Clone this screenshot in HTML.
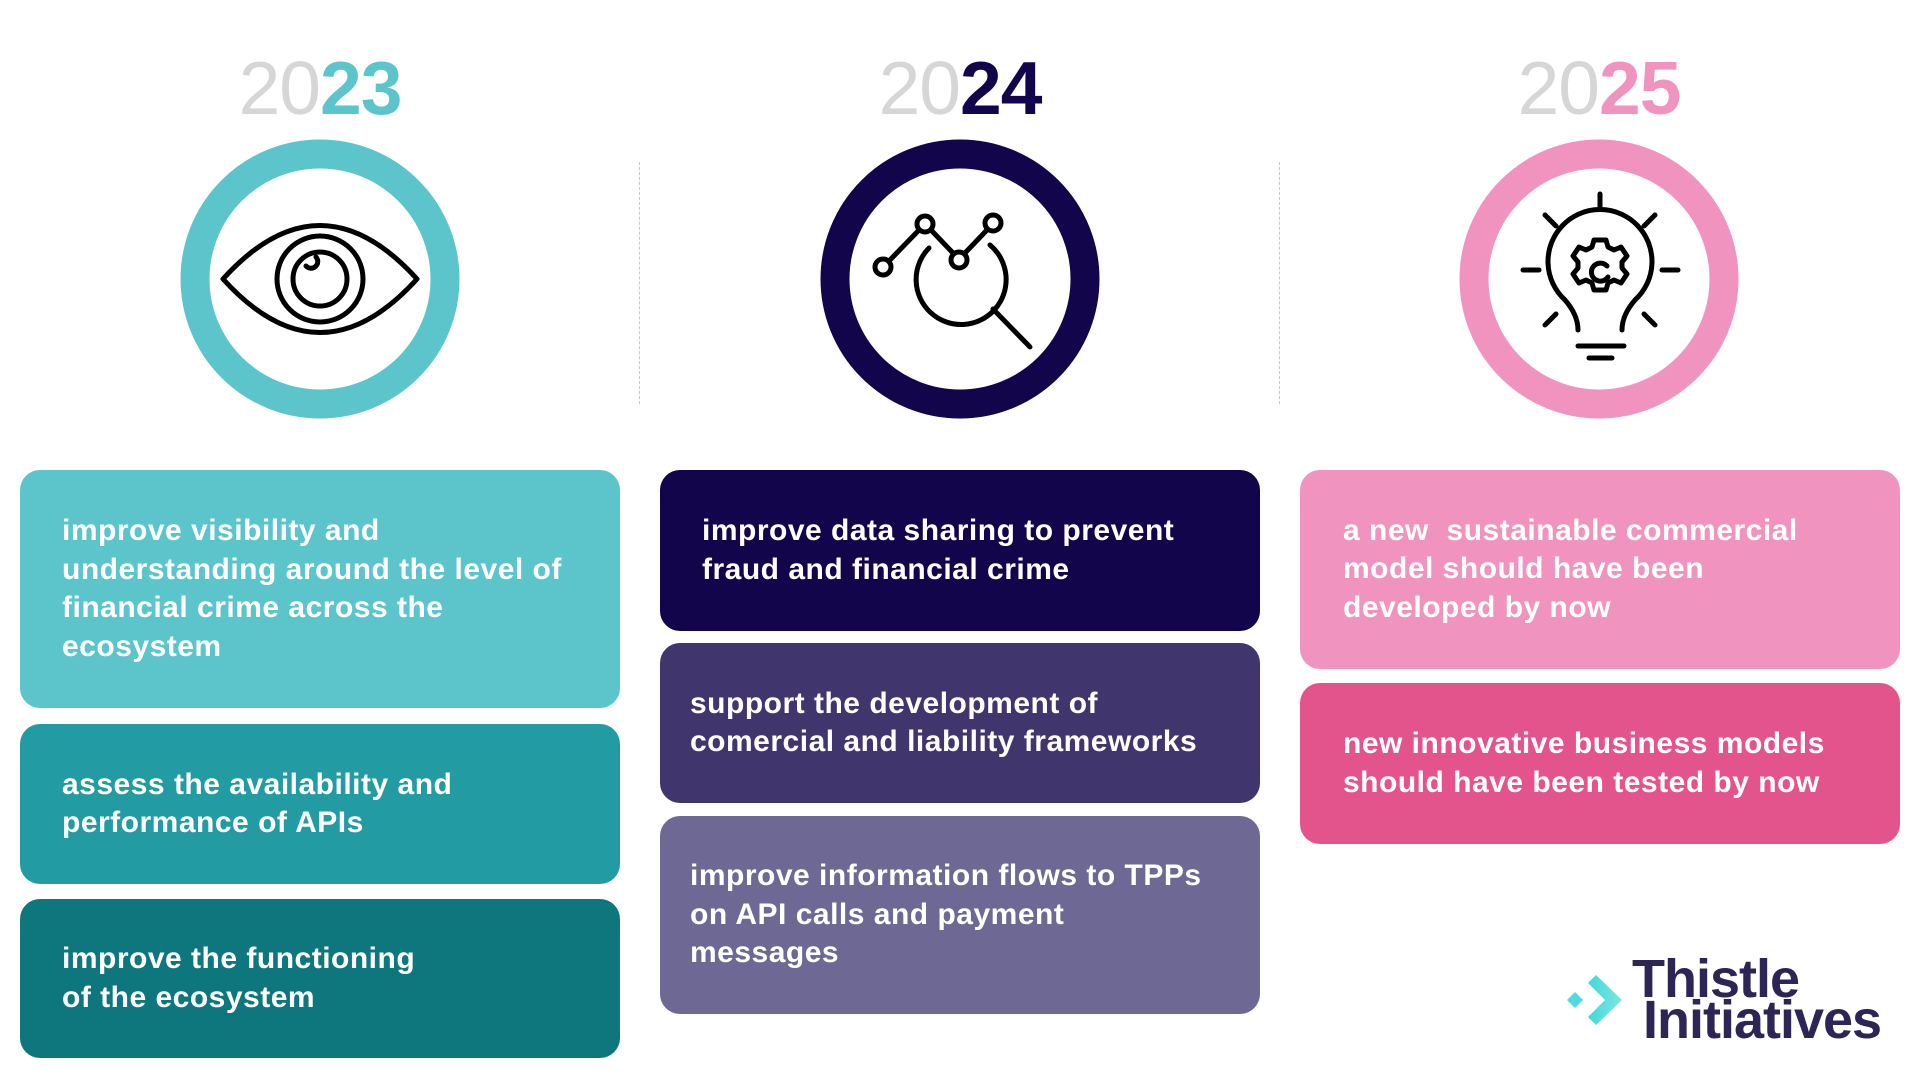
<!DOCTYPE html>
<html><head><meta charset="utf-8"><style>
html,body{margin:0;padding:0;background:#fff;}
body{width:1920px;height:1080px;position:relative;overflow:hidden;font-family:"Liberation Sans",Arial,sans-serif;}
.yr{position:absolute;top:46px;width:300px;text-align:center;font-size:75px;line-height:84px;letter-spacing:-1px;}
.yr .a{color:#d6d6d6;font-weight:normal;}
.yr .b{font-weight:bold;}
.box{position:absolute;border-radius:20px;color:#fff;font-weight:bold;font-size:30px;line-height:38.5px;display:flex;align-items:center;box-sizing:border-box;letter-spacing:0.5px;}
.dash{position:absolute;top:162px;height:242px;border-left:1.5px dashed #c8c8c8;}
</style></head><body>

<div class="yr" style="left:170px"><span class="a">20</span><span class="b" style="color:#5bc5cb">23</span></div>
<div class="yr" style="left:810px"><span class="a">20</span><span class="b" style="color:#12054b">24</span></div>
<div class="yr" style="left:1449px"><span class="a">20</span><span class="b" style="color:#f093bf">25</span></div>

<div class="dash" style="left:639px"></div>
<div class="dash" style="left:1279px"></div>

<svg width="1920" height="460" style="position:absolute;left:0;top:0" fill="none" stroke="#000" stroke-width="5" stroke-linecap="round" stroke-linejoin="round">
  <circle cx="320" cy="279" r="125" stroke="#5bc5cb" stroke-width="29"/>
  <path d="M223 279 Q320 172 417 279 Q320 386 223 279 Z"/>
  <circle cx="320" cy="279" r="43"/>
  <circle cx="320" cy="279" r="27"/>
  <path d="M306 266 a6 6 0 0 0 10 -9"/>

  <circle cx="960" cy="279" r="125" stroke="#12054b" stroke-width="29"/>
  <line x1="889" y1="261" x2="919" y2="230"/>
  <line x1="931" y1="230" x2="953" y2="253"/>
  <line x1="965" y1="253" x2="987" y2="230"/>
  <circle cx="883" cy="267" r="8"/>
  <circle cx="925" cy="224" r="8"/>
  <circle cx="959" cy="260" r="8"/>
  <circle cx="993" cy="223" r="8"/>
  <path d="M929 248 A45 45 0 1 0 990 245"/>
  <line x1="993" y1="309" x2="1030" y2="347"/>

  <circle cx="1599" cy="279" r="125" stroke="#f093bf" stroke-width="29"/>
  <path d="M1578 330 Q1578 315 1565 300 A52 52 0 1 1 1635 300 Q1622 315 1622 330"/>
  <line x1="1578" y1="346" x2="1624" y2="346"/>
  <line x1="1589" y1="358" x2="1612" y2="358"/>
  <line x1="1600" y1="194" x2="1600" y2="207"/>
  <line x1="1523" y1="270" x2="1539" y2="270"/>
  <line x1="1662" y1="270" x2="1678" y2="270"/>
  <line x1="1545" y1="215" x2="1556" y2="226"/>
  <line x1="1655" y1="215" x2="1644" y2="226"/>
  <line x1="1545" y1="325" x2="1556" y2="314"/>
  <line x1="1655" y1="325" x2="1644" y2="314"/>
  <path d="M1594 240 h12 l2 7 6 3 7 -3 6 9 -5 6 v6 l5 6 -6 9 -7 -3 -6 3 -2 7 h-12 l-2 -7 -6 -3 -7 3 -6 -9 5 -6 v-6 l-5 -6 6 -9 7 3 6 -3 z"/>
  <path d="M1607 266 A9 9 0 1 0 1608 277"/>
</svg>

<div class="box" style="left:20px;top:470px;width:600px;height:238px;background:#5bc5cb;padding-left:42px">improve visibility and<br>understanding around the level of<br>financial crime across the<br>ecosystem</div>
<div class="box" style="left:20px;top:724px;width:600px;height:160px;background:#229ba3;padding-left:42px">assess the availability and<br>performance of APIs</div>
<div class="box" style="left:20px;top:899px;width:600px;height:159px;background:#0e767d;padding-left:42px">improve the functioning<br>of the ecosystem</div>

<div class="box" style="left:660px;top:470px;width:600px;height:161px;background:#12054b;padding-left:42px">improve data sharing to prevent<br>fraud and financial crime</div>
<div class="box" style="left:660px;top:643px;width:600px;height:160px;background:#41356e;padding-left:30px">support the development of<br>comercial and liability frameworks</div>
<div class="box" style="left:660px;top:816px;width:600px;height:198px;background:#6e6895;padding-left:30px">improve information flows to TPPs<br>on API calls and payment<br>messages</div>

<div class="box" style="left:1300px;top:470px;width:600px;height:199px;background:#f093bf;padding-left:43px">a new&nbsp; sustainable commercial<br>model should have been<br>developed by now</div>
<div class="box" style="left:1300px;top:683px;width:600px;height:161px;background:#e3548c;padding-left:43px">new innovative business models<br>should have been tested by now</div>

<svg width="70" height="70" style="position:absolute;left:1562px;top:965px">
  <defs><linearGradient id="g" x1="0" x2="1"><stop offset="0" stop-color="#3fd9d9"/><stop offset="1" stop-color="#7fe6e0"/></linearGradient></defs>
  <polygon points="5,35 13,27 21,35 13,43" fill="#4fdcdc"/>
  <polygon points="26,18 34,10 60,35 34,60 26,52 43,35" fill="url(#g)"/>
</svg>
<div style="position:absolute;left:1632px;top:949px;font-weight:bold;font-size:54px;line-height:60px;color:#2d2555;letter-spacing:-1px">Thistle</div>
<div style="position:absolute;left:1643px;top:990px;font-weight:bold;font-size:54px;line-height:60px;color:#2d2555;letter-spacing:-1px">Initiatives</div>

</body></html>
